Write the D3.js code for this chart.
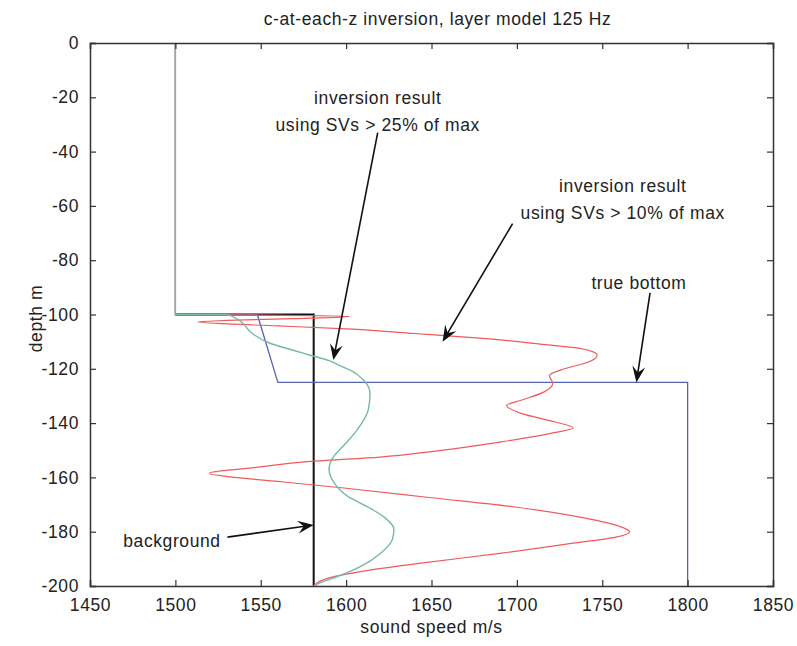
<!DOCTYPE html>
<html>
<head>
<meta charset="utf-8">
<script src="https://cdn.jsdelivr.net/npm/d3@7"></script>
<style>
  html, body { margin: 0; padding: 0; background: #fff; }
  svg text { font-family: "Liberation Sans", Arial, sans-serif; fill: #222; letter-spacing: 0.6px; }
</style>
</head>
<body>
<svg id="chart" width="797" height="646"></svg>
<script>
// Axis ticks
const speedTicks = [1450, 1500, 1550, 1600, 1650, 1700, 1750, 1800, 1850];
const depthTicks = [0, -20, -40, -60, -80, -100, -120, -140, -160, -180, -200];

// True layered bottom profile
const trueSpeed = [1500, 1500, 1548, 1560, 1800, 1800];
const trueDepth = [0, -100, -100, -125, -125, -200];

// Background (starting) profile below the water column
const bgSpeed = [1500, 1581, 1581];
const bgDepth = [-100, -100, -200];

// Inversion result using singular values > 25% of max
const sv25Speed = [1500, 1500, 1530, 1537, 1545, 1555, 1568, 1579, 1590, 1597, 1604, 1610, 1614, 1613, 1607, 1599, 1592, 1590, 1593, 1601, 1613, 1623, 1628, 1627, 1620, 1608, 1595, 1586, 1581];
const sv25Depth = [0, -100, -100, -102, -107, -110.5, -113, -115, -117, -119, -121, -124, -129, -135, -142, -148, -153, -157, -162, -167, -171, -175, -179, -183, -188, -193, -196.5, -198.5, -200];

// Inversion result using singular values > 10% of max
const sv10Speed = [1500, 1500, 1550, 1602, 1570, 1530, 1513, 1525, 1560, 1600, 1640, 1680, 1715, 1737, 1747, 1742, 1728, 1719, 1721, 1716, 1703, 1694, 1703, 1722, 1733, 1722, 1690, 1650, 1620, 1581, 1545, 1522, 1520, 1532, 1560, 1600, 1650, 1700, 1740, 1760, 1766, 1758, 1730, 1690, 1645, 1610, 1590, 1583, 1581];
const sv10Depth = [0, -100, -100.2, -100.7, -101.5, -102.2, -102.7, -103.3, -104.2, -105.3, -107, -108.8, -111, -112.5, -115, -117.5, -120, -122.5, -125.3, -128.5, -131.5, -133.5, -136.5, -139.5, -141.8, -143.5, -147, -150.5, -152.5, -154, -156.5, -158, -158.6, -159.8, -161.5, -164, -167.5, -171, -175, -178, -180, -182, -184.5, -188, -191.5, -194.5, -197, -198.8, -200];

// Annotation texts and arrows (data coordinates)
const noteLabels = [
  { lines: ["inversion result", "using SVs > 25% of max"], speed: 1618.5, depth: [-20.3, -30.3] },
  { lines: ["inversion result", "using SVs > 10% of max"], speed: 1762, depth: [-52.6, -62.6] },
  { lines: ["true bottom"], speed: 1771.5, depth: [-88.4] },
  { lines: ["background"], speed: 1498, depth: [-183.2] }
];
const noteArrows = [
  { from: [1618.5, -33], to: [1592.5, -116.8] },
  { from: [1697.5, -66.5], to: [1656.5, -110] },
  { from: [1778, -92], to: [1770, -125] },
  { from: [1530.5, -182], to: [1581, -177.5] }
];

const svg = d3.select("#chart");
const margin = { left: 90, right: 24, top: 43, bottom: 60 };
const W = 797, H = 646;
const x = d3.scaleLinear().domain([1450, 1850]).range([margin.left, W - margin.right]);
const y = d3.scaleLinear().domain([-200, 0]).range([H - margin.bottom, margin.top]);

const line = d3.line().x(d => x(d[0])).y(d => y(d[1]));
const smooth = d3.line().x(d => x(d[0])).y(d => y(d[1])).curve(d3.curveMonotoneY);
const zip = (a, b) => a.map((v, i) => [v, b[i]]);

const plot = svg.append("g");

// profiles
plot.append("path").datum(zip(bgSpeed, bgDepth)).attr("d", line)
  .attr("fill", "none").attr("stroke", "#111").attr("stroke-width", 2);
plot.append("path").datum(zip(trueSpeed, trueDepth)).attr("d", line)
  .attr("fill", "none").attr("stroke", "#5563b8").attr("stroke-width", 1.3);
plot.append("path").datum(zip(sv10Speed, sv10Depth)).attr("d", smooth)
  .attr("fill", "none").attr("stroke", "#ee5a5a").attr("stroke-width", 1.2);
plot.append("path").datum(zip(sv25Speed, sv25Depth)).attr("d", smooth)
  .attr("fill", "none").attr("stroke", "#76b8ab").attr("stroke-width", 1.4);

// axes box with inward ticks
const axisColor = "#333";
const tickLen = 6;
const fmt = d => String(d);
const axB = svg.append("g").attr("transform", `translate(0,${y(-200)})`)
  .call(d3.axisBottom(x).tickValues(speedTicks).tickSize(-tickLen).tickPadding(13).tickFormat(fmt));
const axT = svg.append("g").attr("transform", `translate(0,${y(0)})`)
  .call(d3.axisTop(x).tickValues(speedTicks).tickSize(-tickLen).tickFormat(""));
const axL = svg.append("g").attr("transform", `translate(${x(1450)},0)`)
  .call(d3.axisLeft(y).tickValues(depthTicks).tickSize(-tickLen).tickPadding(11).tickFormat(fmt));
const axR = svg.append("g").attr("transform", `translate(${x(1850)},0)`)
  .call(d3.axisRight(y).tickValues(depthTicks).tickSize(-tickLen).tickFormat(""));
[axB, axT, axL, axR].forEach(a => {
  a.select(".domain").attr("stroke", axisColor).attr("stroke-width", 1.5);
  a.selectAll(".tick line").attr("stroke", axisColor).attr("stroke-width", 1.2);
  a.selectAll("text").attr("font-size", 17.5).attr("fill", "#222")
    .attr("font-family", "'Liberation Sans', Arial, sans-serif");
});

// titles
svg.append("text").attr("x", (x(1450) + x(1850)) / 2 + 6).attr("y", 19)
  .attr("dy", "0.35em").attr("text-anchor", "middle").attr("font-size", 17.5)
  .text("c-at-each-z inversion, layer model 125 Hz");
svg.append("text").attr("x", (x(1450) + x(1850)) / 2).attr("y", 627)
  .attr("dy", "0.35em").attr("text-anchor", "middle").attr("font-size", 17.5).text("sound speed m/s");
svg.append("text").attr("transform", `translate(36,${(y(0) + y(-200)) / 2 + 4}) rotate(-90)`)
  .attr("dy", "0.35em").attr("text-anchor", "middle").attr("font-size", 17.5).text("depth m");

// annotations
noteLabels.forEach(n => {
  n.lines.forEach((t, i) => {
    svg.append("text").attr("x", x(n.speed)).attr("y", y(n.depth[i]))
      .attr("dy", "0.35em").attr("text-anchor", "middle").attr("font-size", 17.5).text(t);
  });
});

function arrowHead(x1, y1, x2, y2) {
  const a = Math.atan2(y2 - y1, x2 - x1);
  const L = 16, Wd = 6.5, notch = 10;
  const ux = Math.cos(a), uy = Math.sin(a), px = -uy, py = ux;
  const bx = x2 - ux * L, by = y2 - uy * L;
  const nx = x2 - ux * notch, ny = y2 - uy * notch;
  return `M${x2},${y2}L${bx + px * Wd},${by + py * Wd}L${nx},${ny}L${bx - px * Wd},${by - py * Wd}Z`;
}
noteArrows.forEach(a => {
  const x1 = x(a.from[0]), y1 = y(a.from[1]), x2 = x(a.to[0]), y2 = y(a.to[1]);
  const ang = Math.atan2(y2 - y1, x2 - x1);
  svg.append("line").attr("x1", x1).attr("y1", y1)
    .attr("x2", x2 - Math.cos(ang) * 9).attr("y2", y2 - Math.sin(ang) * 9)
    .attr("stroke", "#111").attr("stroke-width", 1.6);
  svg.append("path").attr("d", arrowHead(x1, y1, x2, y2)).attr("fill", "#111");
});
</script>
</body>
</html>
